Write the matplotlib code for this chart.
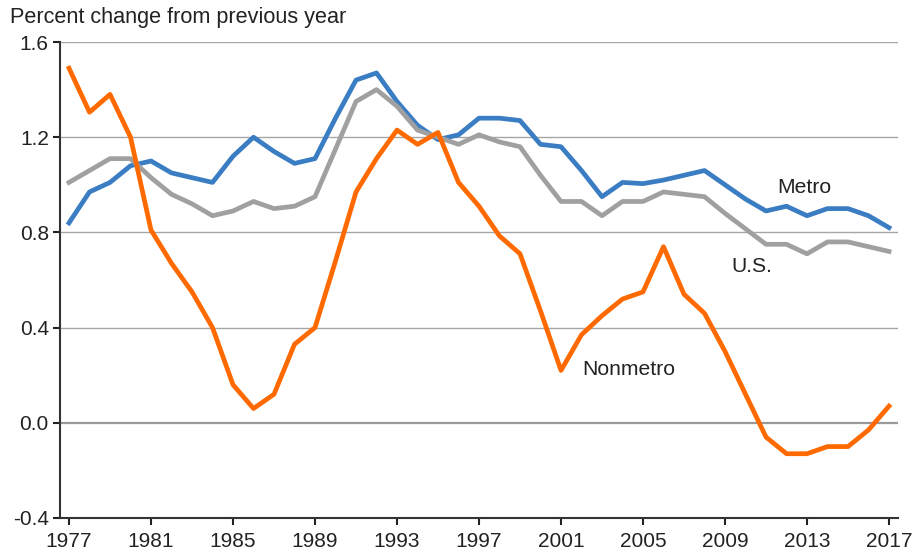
#!/usr/bin/env python
# -*- coding: utf-8 -*-

import numpy as np
import matplotlib
matplotlib.use("Agg")
import matplotlib.pyplot as plt

matplotlib.rcParams['font.family'] = ['Liberation Sans', 'DejaVu Sans']
matplotlib.rcParams['xtick.direction'] = 'out'
matplotlib.rcParams['ytick.direction'] = 'out'

years = np.arange(1977, 2018)

metro = [0.84, 0.97, 1.01, 1.08, 1.10, 1.05, 1.03, 1.01, 1.12, 1.20,
         1.14, 1.09, 1.11, 1.28, 1.44, 1.47, 1.35, 1.25, 1.19, 1.21,
         1.28, 1.28, 1.27, 1.17, 1.16, 1.06, 0.95, 1.01, 1.005, 1.02,
         1.04, 1.06, 1.00, 0.94, 0.89, 0.91, 0.87, 0.90, 0.90, 0.87,
         0.82]

us = [1.01, 1.06, 1.11, 1.11, 1.03, 0.96, 0.92, 0.87, 0.89, 0.93,
      0.90, 0.91, 0.95, 1.15, 1.35, 1.40, 1.33, 1.23, 1.20, 1.17,
      1.21, 1.18, 1.16, 1.04, 0.93, 0.93, 0.87, 0.93, 0.93, 0.97,
      0.96, 0.95, 0.88, 0.815, 0.75, 0.75, 0.71, 0.76, 0.76, 0.74,
      0.72]

nonmetro = [1.49, 1.305, 1.38, 1.20, 0.81, 0.67, 0.55, 0.40, 0.16, 0.06,
            0.12, 0.33, 0.40, 0.68, 0.97, 1.11, 1.23, 1.17, 1.22, 1.01,
            0.91, 0.785, 0.71, 0.47, 0.22, 0.37, 0.45, 0.52, 0.55, 0.74,
            0.54, 0.46, 0.30, 0.12, -0.06, -0.13, -0.13, -0.10, -0.10, -0.03,
            0.07]

xticks = np.arange(1977, 2018, 4)
yticks = [-0.4, 0.0, 0.4, 0.8, 1.2, 1.6]


def main():
    fig = plt.figure(figsize=(9.13, 5.55), dpi=100)
    ax = fig.add_axes([0.0657, 0.0667, 0.9179, 0.8576])

    for y in yticks[1:]:
        ax.axhline(y, color="#a6a6a6" if y != 0 else "#999999",
                   lw=1.6 if y == 0 else 1.0, zorder=1)

    ax.plot(years, metro, color="#3a7dc3", lw=3.4, zorder=3)
    ax.plot(years, us, color="#a0a0a0", lw=3.4, zorder=3)
    ax.plot(years, nonmetro, color="#ff6a00", lw=3.4, zorder=4)

    ax.text(2012.85, 0.99, "Metro", fontsize=15.2, color="#222222",
            ha="center", va="center")
    ax.text(2010.3, 0.658, "U.S.", fontsize=15.2, color="#222222",
            ha="center", va="center")
    ax.text(2004.3, 0.223, "Nonmetro", fontsize=15.2, color="#222222",
            ha="center", va="center")

    ax.set_xlim(1976.56, 2017.44)
    ax.set_ylim(-0.4, 1.6)
    ax.set_xticks(xticks)
    ax.set_yticks(yticks)
    ax.set_yticklabels(["%.1f" % v for v in yticks])
    ax.tick_params(axis="both", labelsize=15, colors="#222222",
                   length=5, width=1.5)
    ax.tick_params(axis="x", pad=5)
    ax.tick_params(axis="y", pad=3)

    for s in ["top", "right"]:
        ax.spines[s].set_visible(False)
    for s in ["left", "bottom"]:
        ax.spines[s].set_color("#333333")
        ax.spines[s].set_linewidth(1.5)

    fig.text(10 / 913, 1 - 18 / 555, "Percent change from previous year",
             fontsize=15.6, color="#222222", ha="left", va="center")

    fig.savefig("out.png", dpi=100)
    plt.close()


if __name__ == "__main__":
    main()
